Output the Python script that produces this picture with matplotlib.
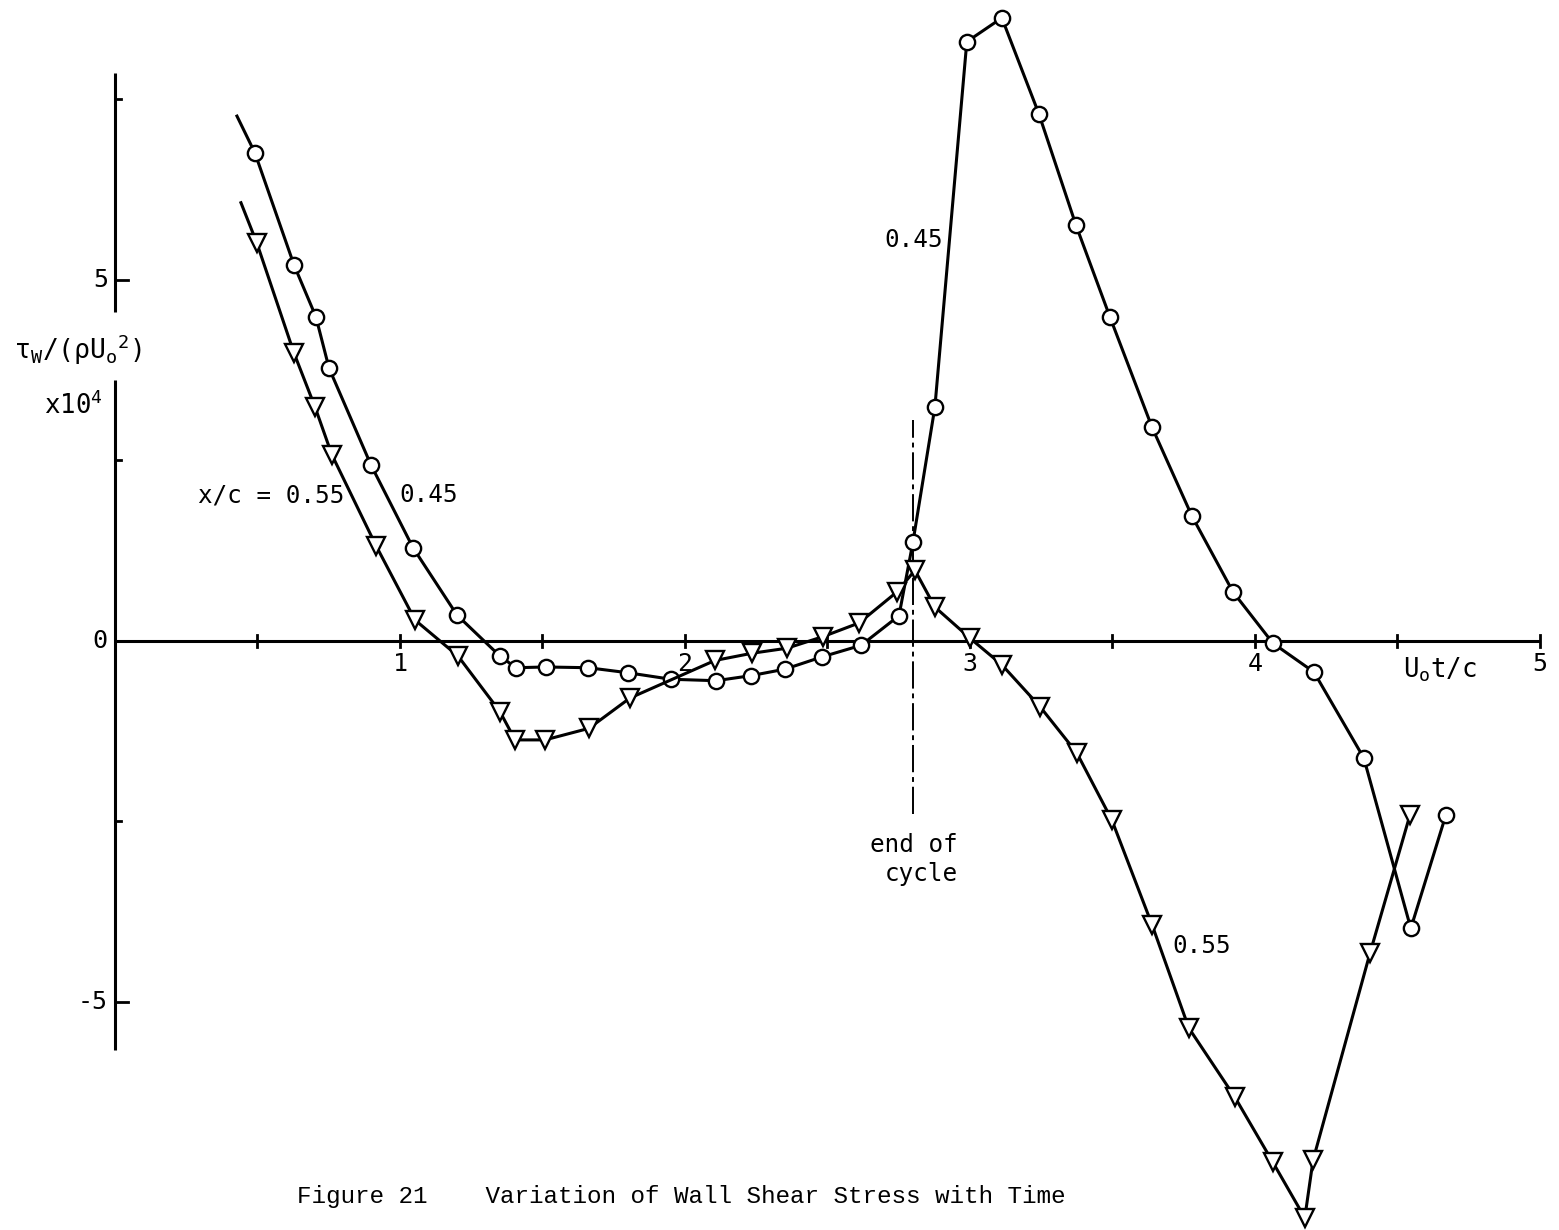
import numpy as np
import matplotlib
matplotlib.use("Agg")
import matplotlib.pyplot as plt

# U0 t / c  and  tau_w / (rho U0^2) x 10^4, read station by station
# first entry of each list is where the faired curve starts (no symbol)
t_045 = [0.428, 0.491, 0.628, 0.705, 0.751, 0.898, 1.046, 1.200, 1.351, 1.407,
         1.512, 1.660, 1.800, 1.951, 2.109, 2.232, 2.351, 2.481, 2.618, 2.751,
         2.800, 2.877, 2.989, 3.112, 3.242, 3.372, 3.491, 3.639, 3.779, 3.923,
         4.063, 4.207, 4.382, 4.547, 4.670]
tau_045 = [7.27, 6.76, 5.21, 4.49, 3.78, 2.44, 1.29, 0.36, -0.21, -0.37,
           -0.36, -0.37, -0.44, -0.53, -0.55, -0.48, -0.39, -0.22, -0.06, 0.35,
           1.37, 3.24, 8.30, 8.63, 7.30, 5.76, 4.49, 2.96, 1.73, 0.68,
           -0.03, -0.43, -1.62, -3.98, -2.41]

t_055 = [0.442, 0.498, 0.628, 0.702, 0.761, 0.916, 1.053, 1.204, 1.351, 1.404,
         1.509, 1.663, 1.807, 2.105, 2.235, 2.358, 2.484, 2.611, 2.744, 2.807,
         2.877, 3.000, 3.112, 3.246, 3.375, 3.498, 3.639, 3.768, 3.930, 4.063,
         4.175, 4.204, 4.404, 4.544]
tau_055 = [6.07, 5.51, 3.99, 3.24, 2.58, 1.32, 0.29, -0.21, -0.98, -1.37,
           -1.37, -1.21, -0.79, -0.27, -0.17, -0.10, 0.06, 0.25, 0.68, 0.98,
           0.47, 0.04, -0.33, -0.91, -1.55, -2.48, -3.93, -5.36, -6.32, -7.22,
           -7.99, -7.19, -4.32, -2.41]

end_of_cycle = 2.80

xticks = [1, 2, 3, 4, 5]
yticks = [-5, 0, 5]

mono = "DejaVu Sans Mono"
fs = 17.5

fig = plt.figure(figsize=(15.59, 12.30), dpi=100)
ax = fig.add_axes([0, 0, 1, 1])
ax.set_xlim(-0.4035, 5.067)
ax.set_ylim(-8.158, 8.878)
ax.axis("off")

lw = 2.2
# axes drawn by hand, y axis broken around its label
ax.plot([0, 5], [0, 0], color="black", lw=lw, solid_capstyle="butt")
ax.plot([0, 0], [-5.66, 3.61], color="black", lw=lw, solid_capstyle="butt")
ax.plot([0, 0], [4.56, 7.87], color="black", lw=lw, solid_capstyle="butt")

for xt in np.arange(0.5, 5.01, 0.5):
    ax.plot([xt, xt], [-0.08, 0.08], color="black", lw=2.0)
for yt in [-5, 5]:
    ax.plot([0, 0.045], [yt, yt], color="black", lw=2.0)
for yt in [-2.5, 2.5, 7.5]:
    ax.plot([0, 0.02], [yt, yt], color="black", lw=2.0)

for xt in xticks:
    ax.text(xt, -0.32, str(xt), ha="center", va="center", family=mono, fontsize=18)
for yt in yticks:
    ax.text(-0.025, yt, str(yt), ha="right", va="center", family=mono, fontsize=18)

# end of cycle marker
ax.plot([end_of_cycle, end_of_cycle], [-2.40, 3.06], color="black", lw=1.4,
        linestyle=(0, (14, 2.5, 2.5, 2.5)))
ax.text(2.958, -2.66, "end of\ncycle", ha="right", va="top", family=mono,
        fontsize=fs, multialignment="right", linespacing=1.25)

# the two stations
ax.plot(t_045, tau_045, color="black", lw=lw, marker="o", markersize=11,
        markerfacecolor="white", markeredgewidth=1.7, markevery=slice(1, None),
        zorder=3)
ax.plot(t_055, tau_055, color="black", lw=lw, marker="v", markersize=13.5,
        markerfacecolor="white", markeredgewidth=1.7, markevery=slice(1, None),
        zorder=3)

# curve labels
ax.text(1.10, 2.02, "0.45", ha="center", va="center", family=mono, fontsize=fs)
ax.text(0.805, 2.02, "x/c = 0.55", ha="right", va="center", family=mono, fontsize=fs)
ax.text(2.905, 5.56, "0.45", ha="right", va="center", family=mono, fontsize=fs)
ax.text(3.71, -4.22, "0.55", ha="left", va="center", family=mono, fontsize=fs)

# axis titles
ax.text(4.65, -0.40, r"U$_\mathregular{o}$t/c", ha="center", va="center",
        family=mono, fontsize=18.5)
ax.text(-0.13, 4.03, r"τ$_\mathregular{W}$/(ρU$_\mathregular{o}$$^\mathregular{2}$)",
        ha="center", va="center", family=mono, fontsize=19)
ax.text(-0.145, 3.26, r"x10$^\mathregular{4}$", ha="center", va="center",
        family=mono, fontsize=18.5)

fig.text(0.437, 1 - 1196 / 1230, "Figure 21    Variation of Wall Shear Stress with Time",
         ha="center", va="center", family="Liberation Mono", fontsize=17.5)

fig.savefig("out.png", dpi=100)
